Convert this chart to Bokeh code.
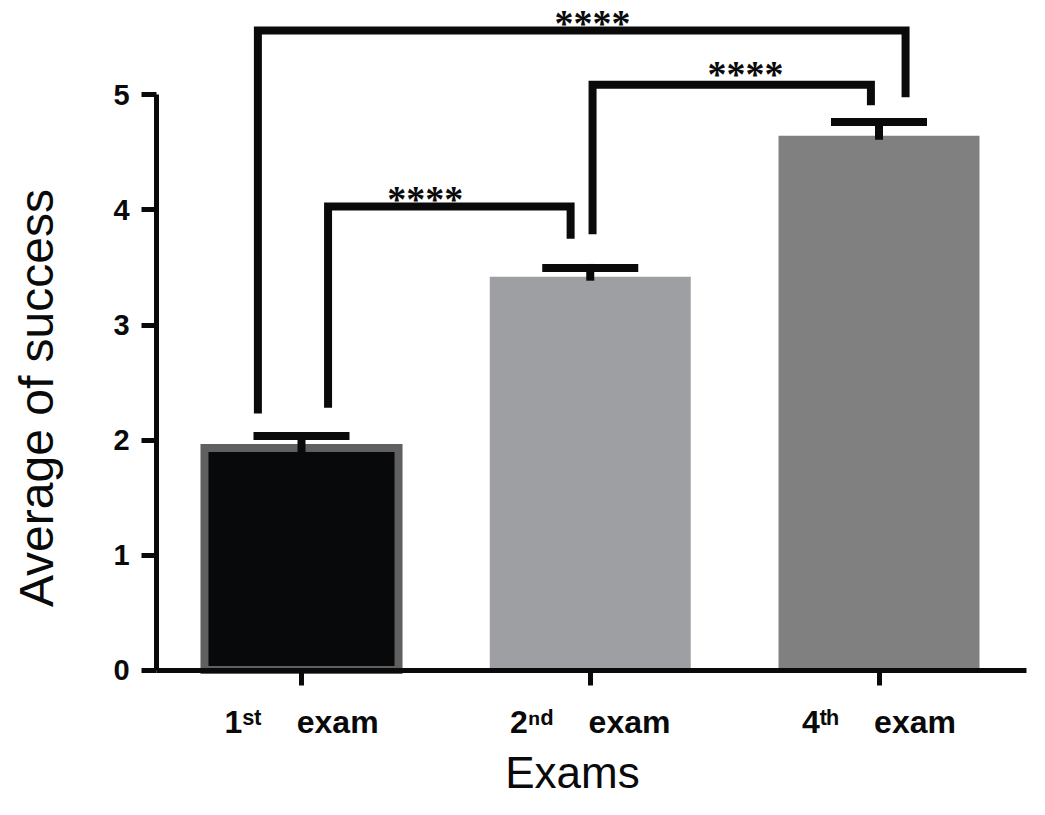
import math
from bokeh.plotting import figure
from bokeh.models import (Range1d, Label, LabelSet, ColumnDataSource, Whisker,
                          TeeHead, FixedTicker)
from bokeh.embed import file_html
from bokeh.resources import INLINE

# ---------------- data ----------------
GAP = "\u00a0\u00a0\u00a0\u00a0"
exam_names = ["1\u02e2\u1d57" + GAP + "exam",
              "2\u207f\u1d48" + GAP + "exam",
              "4\u1d57\u02b0" + GAP + "exam"]
means = [1.93, 3.42, 4.645]
sems = [0.105, 0.076, 0.12]
sig_pairs = [(0, 1), (1, 2), (0, 2)]
sig_labels = ["****", "****", "****"]
y_ticks = [0, 1, 2, 3, 4, 5]
x_title = "Exams"
y_title = "Average of success"

# ---------------- styling / layout ----------------
FONT = "Liberation Sans"
INK = "#0a0a0a"
fills = ["#07090b", "#9e9fa3", "#7f807f"]
borders = ["#606060", "#9e9fa3", "#7f807f"]
border_w = [8, 0, 0]
bar_w = [0.672, 0.696, 0.696]

xpos = [i + 1 for i in range(len(exam_names))]
X_LO, X_HI = 0.498, 3.511          # extent of the drawn x axis
Y_LO, Y_HI = y_ticks[0], y_ticks[-1]

p = figure(width=1029, height=799, output_backend="svg", toolbar_location=None,
           x_range=Range1d(-0.0424, 3.5212), y_range=Range1d(-1.126, 5.8217),
           min_border_left=0, min_border_right=0, min_border_top=0,
           min_border_bottom=0)
p.outline_line_color = None
p.xgrid.visible = False
p.ygrid.visible = False

# bars
for i in range(len(xpos)):
    p.vbar(x=[xpos[i]], top=[means[i]], width=bar_w[i], bottom=0,
           fill_color=fills[i], line_color=borders[i],
           line_width=border_w[i] if border_w[i] else 1,
           line_alpha=1 if border_w[i] else 0, line_join="miter")

# error bars (upper only)
err_src = ColumnDataSource(dict(x=xpos, lower=means,
                                upper=[m + s for m, s in zip(means, sems)]))
p.add_layout(Whisker(base="x", lower="lower", upper="upper", source=err_src,
                     line_width=8, line_color=INK, line_cap="square",
                     upper_head=TeeHead(size=96, line_width=8, line_color=INK),
                     lower_head=None, level="annotation"))

# significance brackets: (left leg offset, right leg offset, top, left bottom, right bottom)
bracket_geom = [
    (0.092, -0.068, 4.03, 2.28, 3.75),
    (0.008, -0.028, 5.09, 3.79, 4.91),
    (-0.151, 0.092, 5.56, 2.23, 4.98),
]
star_geom = [(1.429, 3.985), (2.538, 5.072), (2.008, 5.515)]
xs, ys = [], []
for (a, b), (lo, ro, top, lb, rb) in zip(sig_pairs, bracket_geom):
    xl = xpos[a] + lo
    xr = xpos[b] + ro
    xs.append([xl, xl, xr, xr])
    ys.append([lb, top, top, rb])
p.multi_line(xs=xs, ys=ys, line_width=8, line_color=INK, line_join="miter")

star_src = ColumnDataSource(dict(x=[g[0] for g in star_geom],
                                 y=[g[1] for g in star_geom],
                                 text=sig_labels))
p.add_layout(LabelSet(x="x", y="y", text="text", source=star_src,
                      text_align="center", text_baseline="alphabetic",
                      text_font=FONT, text_font_size="38px",
                      text_font_style="bold", text_color=INK))

# axes (fixed at the data origin)
p.yaxis.fixed_location = X_LO
p.yaxis.bounds = (Y_LO, Y_HI)
p.yaxis.ticker = FixedTicker(ticks=y_ticks)
p.yaxis.minor_tick_line_color = None
p.yaxis.major_tick_in = 0
p.yaxis.major_tick_out = 15
p.yaxis.axis_line_width = 5
p.yaxis.major_tick_line_width = 5
p.yaxis.axis_line_color = INK
p.yaxis.major_tick_line_color = INK
p.yaxis.major_label_text_font = FONT
p.yaxis.major_label_text_font_style = "bold"
p.yaxis.major_label_text_font_size = "29px"
p.yaxis.major_label_text_color = INK
p.yaxis.major_label_standoff = 12

p.xaxis.fixed_location = 0
p.xaxis.bounds = (X_LO, X_HI)
p.xaxis.ticker = FixedTicker(ticks=xpos)
p.xaxis.major_label_overrides = {x: exam_names[i] for i, x in enumerate(xpos)}
p.xaxis.minor_tick_line_color = None
p.xaxis.major_tick_in = 0
p.xaxis.major_tick_out = 15
p.xaxis.axis_line_width = 5
p.xaxis.major_tick_line_width = 5
p.xaxis.axis_line_color = INK
p.xaxis.major_tick_line_color = INK
p.xaxis.major_label_text_font = FONT
p.xaxis.major_label_text_font_style = "bold"
p.xaxis.major_label_text_font_size = "32px"
p.xaxis.major_label_text_color = INK
p.xaxis.major_label_standoff = 19

# axis titles
p.add_layout(Label(x=1.9385, y=-1.10, text=x_title, text_align="center",
                   text_baseline="bottom", text_font=FONT,
                   text_font_size="44px", text_color=INK))
p.add_layout(Label(x=0.0823, y=2.365, text=y_title, angle=math.pi / 2,
                   text_align="center", text_baseline="middle", text_font=FONT,
                   text_font_size="48px", text_color=INK))

open("out.html", "w").write(file_html(p, INLINE))
